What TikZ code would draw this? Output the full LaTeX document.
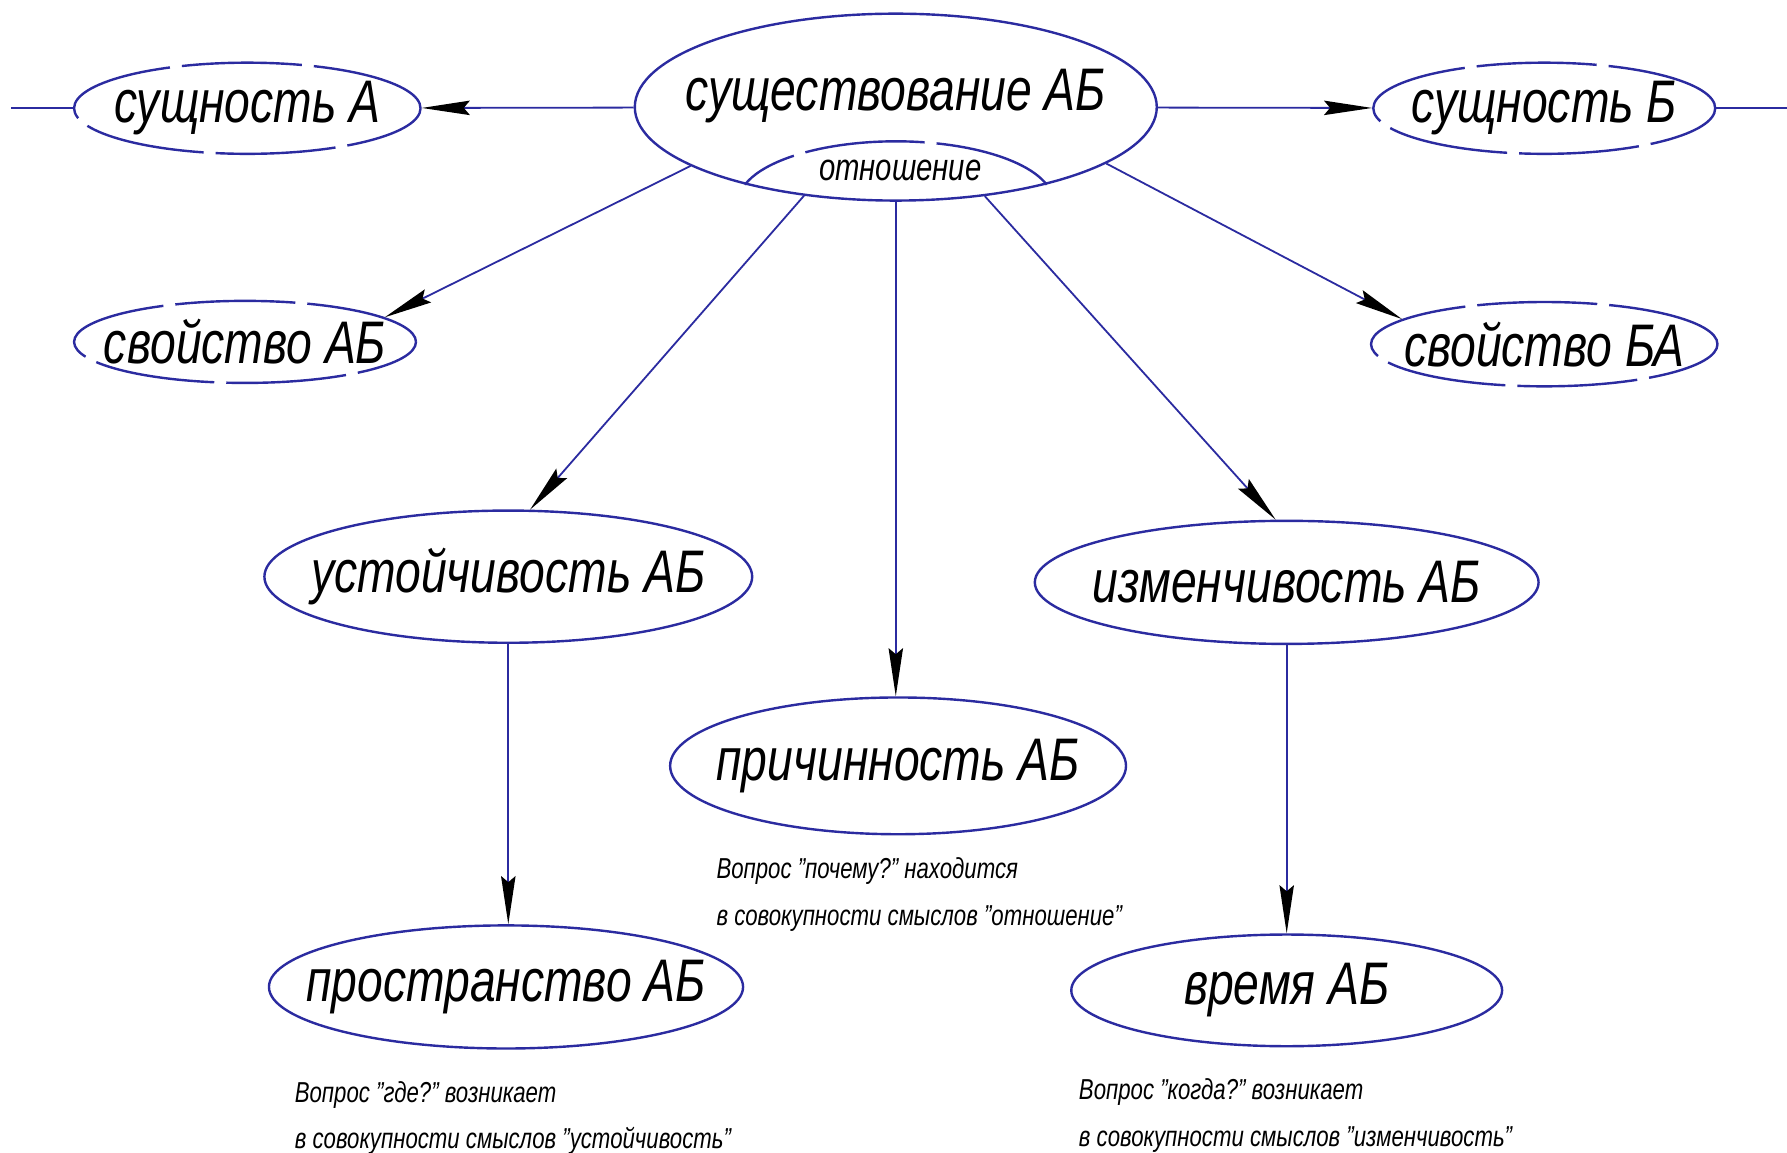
\documentclass[tikz,border=0pt]{standalone}
\usepackage{fontspec}
\setmainfont{Liberation Sans}[FakeStretch=0.77]
\usepackage{tikz}
\usetikzlibrary{shapes.geometric,arrows.meta}
\definecolor{ink}{HTML}{2B2BA0}
\definecolor{tipc}{HTML}{000000}
\definecolor{txt}{HTML}{000000}
% label of zero width, so the ellipse keeps its own size
\newcommand{\elltext}[1]{\makebox[0pt]{#1}}
\tikzset{
  ell/.style={ellipse, draw=ink, line width=0.6pt, inner sep=0pt,
    text=txt, font=\fontsize{15}{17}\selectfont\itshape},
  dell/.style={ell, dash pattern=on 30pt off 3pt},
  lbl/.style={inner sep=0pt, text=txt, font=\fontsize{15}{17}\selectfont\itshape},
  small/.style={inner sep=0pt, text=txt, font=\fontsize{9.5}{11}\selectfont\itshape},
  link/.style={draw=ink, line width=0.45pt},
  arr/.style={link, -{Stealth[length=12pt,width=3.6pt,inset=1.5pt,color=tipc]}},
  note/.style={anchor=north west, inner sep=0pt, align=left, text=txt,
    font=\fontsize{7.2}{11.6}\selectfont\itshape}
}

\begin{document}
\begin{tikzpicture}
  \useasboundingbox (0,0) rectangle (15.68,-10.11);

  % top row
  \node[ell, minimum width=4.58cm, minimum height=1.64cm] (exist) at (7.86,-0.94) {};
  \node[lbl] (existTxt) at (7.86,-0.84) {существование АБ};
  \node[dell, minimum width=3.04cm, minimum height=0.80cm] (sushA) at (2.17,-0.95) {\elltext{сущность А}};
  \node[dell, minimum width=3.00cm, minimum height=0.80cm] (sushB) at (13.55,-0.95) {\elltext{сущность Б}};
  \coordinate (endA) at (0.10,-0.95);
  \coordinate (endB) at (15.68,-0.95);

  % the "relation" arc inside
  \draw[ink, line width=0.6pt, dash pattern=on 30pt off 3pt]
    ([shift={(1.324,0.150)}]exist.south) arc[start angle=16.4, end angle=163.6, x radius=1.38, y radius=0.53];
  \node[small] (otn) at (7.90,-1.50) {отношение};

  % properties
  \node[dell, minimum width=3.00cm, minimum height=0.72cm] (svAB) at (2.15,-3.00) {\elltext{свойство АБ}};
  \node[dell, minimum width=3.04cm, minimum height=0.74cm] (svBA) at (13.55,-3.02) {\elltext{свойство БА}};

  % middle and bottom
  \node[ell, minimum width=4.28cm, minimum height=1.16cm] (ust) at (4.46,-5.06) {\elltext{устойчивость АБ}};
  \node[ell, minimum width=4.42cm, minimum height=1.08cm] (izm) at (11.29,-5.11) {\elltext{изменчивость АБ}};
  \node[ell, minimum width=4.00cm, minimum height=1.20cm] (prich) at (7.88,-6.72) {\elltext{причинность АБ}};
  \node[ell, minimum width=4.16cm, minimum height=1.08cm] (prost) at (4.44,-8.66) {\elltext{пространство АБ}};
  \node[ell, minimum width=3.78cm, minimum height=0.98cm] (vrem) at (11.29,-8.69) {\elltext{время АБ}};

  % connectors
  \draw[link] (sushA.west) -- (endA);
  \draw[link] (sushB.east) -- (endB);
  \draw[arr] (exist) -- (sushA);
  \draw[arr] (exist) -- (sushB);
  \draw[arr] (exist.196) -- (svAB.10);
  \draw[arr] (exist.-15) -- (svBA.170);
  \draw[arr] (exist.224) -- (ust.72);
  \draw[arr] (exist.-45) -- (izm.100);
  \draw[arr] (exist.south) -- (exist.south |- prich.north);
  \draw[arr] (ust.south) -- (ust.south |- prost.north);
  \draw[arr] (izm.south) -- (izm.south |- vrem.north);

  % questions
  \node[note] (qPrich) at (6.28,-7.52) {Вопрос "почему?" находится\\в совокупности смыслов "отношение"};
  \node[note] (qProst) at (2.58,-9.48) {Вопрос "где?" возникает\\в совокупности смыслов "устойчивость"};
  \node[note] (qVrem) at (9.46,-9.46) {Вопрос "когда?" возникает\\в совокупности смыслов "изменчивость"};
\end{tikzpicture}
\end{document}
